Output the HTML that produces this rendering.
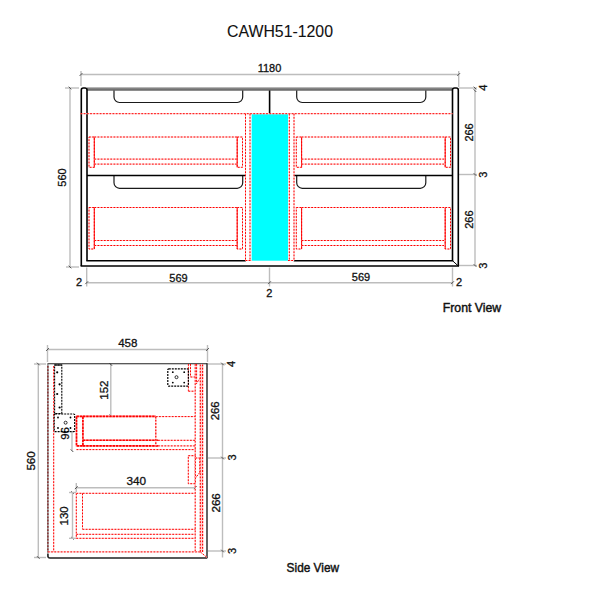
<!DOCTYPE html>
<html><head><meta charset="utf-8"><style>
html,body{margin:0;padding:0;background:#fff;}
svg{display:block;}
text{font-family:"Liberation Sans", sans-serif;fill:#111;stroke:#111;stroke-width:0.3px;}
</style></head><body>
<svg width="600" height="600" viewBox="0 0 600 600">
<defs><linearGradient id="gb" x1="0" y1="0" x2="0" y2="1"><stop offset="0" stop-color="#9a9a9a"/><stop offset="1" stop-color="#5a5a5a"/></linearGradient></defs>
<rect width="600" height="600" fill="#fff"/>
<text x="280.0" y="36.8" font-size="16.3" text-anchor="middle" font-weight="normal" textLength="106" lengthAdjust="spacingAndGlyphs" style="stroke-width:0.1px">CAWH51-1200</text>
<line x1="81" y1="74.5" x2="458.7" y2="74.5" stroke="#bdbdbd" stroke-width="1.4" />
<line x1="81" y1="71" x2="81" y2="86" stroke="#bdbdbd" stroke-width="1.4" />
<line x1="458.7" y1="71" x2="458.7" y2="87" stroke="#bdbdbd" stroke-width="1.4" />
<line x1="79.6" y1="75.9" x2="82.4" y2="73.1" stroke="#444" stroke-width="0.9" />
<line x1="457.3" y1="75.9" x2="460.09999999999997" y2="73.1" stroke="#444" stroke-width="0.9" />
<text x="269.5" y="72.1" font-size="11" text-anchor="middle" font-weight="normal">1180</text>
<line x1="70" y1="88" x2="70" y2="267" stroke="#bdbdbd" stroke-width="1.4" />
<line x1="65" y1="88" x2="79" y2="88" stroke="#bdbdbd" stroke-width="1.4" />
<line x1="66" y1="267" x2="79" y2="267" stroke="#bdbdbd" stroke-width="1.4" />
<line x1="68.7" y1="86.7" x2="71.3" y2="89.3" stroke="#444" stroke-width="0.9" />
<line x1="68.7" y1="265.7" x2="71.3" y2="268.3" stroke="#444" stroke-width="0.9" />
<text x="0" y="0" transform="translate(62.49,177.5) rotate(-90)" font-size="11" text-anchor="middle" dominant-baseline="central" font-weight="normal">560</text>
<line x1="475" y1="88" x2="475" y2="266" stroke="#bdbdbd" stroke-width="1.4" />
<line x1="459" y1="88" x2="477" y2="88" stroke="#bdbdbd" stroke-width="1.4" />
<line x1="473.7" y1="86.7" x2="476.3" y2="89.3" stroke="#444" stroke-width="0.9" />
<line x1="459" y1="174.5" x2="477" y2="174.5" stroke="#bdbdbd" stroke-width="1.4" />
<line x1="473.7" y1="173.2" x2="476.3" y2="175.8" stroke="#444" stroke-width="0.9" />
<line x1="459" y1="265.5" x2="477" y2="265.5" stroke="#bdbdbd" stroke-width="1.4" />
<line x1="473.7" y1="264.2" x2="476.3" y2="266.8" stroke="#444" stroke-width="0.9" />
<line x1="473.7" y1="89.4" x2="476.3" y2="92.0" stroke="#444" stroke-width="0.9" />
<text x="0" y="0" transform="translate(483.0,87.64) rotate(-90)" font-size="11" text-anchor="middle" dominant-baseline="central" font-weight="normal">4</text>
<text x="0" y="0" transform="translate(468.6,132.45) rotate(-90)" font-size="11" text-anchor="middle" dominant-baseline="central" font-weight="normal">266</text>
<text x="0" y="0" transform="translate(483.3,174.8) rotate(-90)" font-size="11" text-anchor="middle" dominant-baseline="central" font-weight="normal">3</text>
<text x="0" y="0" transform="translate(468.6,219.65) rotate(-90)" font-size="11" text-anchor="middle" dominant-baseline="central" font-weight="normal">266</text>
<text x="0" y="0" transform="translate(482.75,265.75) rotate(-90)" font-size="11" text-anchor="middle" dominant-baseline="central" font-weight="normal">3</text>
<line x1="86.7" y1="282.7" x2="452.5" y2="282.7" stroke="#bdbdbd" stroke-width="1.4" />
<line x1="86.7" y1="267.5" x2="86.7" y2="286.5" stroke="#bdbdbd" stroke-width="1.4" />
<line x1="85.3" y1="284.09999999999997" x2="88.10000000000001" y2="281.3" stroke="#444" stroke-width="0.9" />
<line x1="269.5" y1="267.5" x2="269.5" y2="286.5" stroke="#bdbdbd" stroke-width="1.4" />
<line x1="268.1" y1="284.09999999999997" x2="270.9" y2="281.3" stroke="#444" stroke-width="0.9" />
<line x1="452.5" y1="267.5" x2="452.5" y2="286.5" stroke="#bdbdbd" stroke-width="1.4" />
<line x1="451.1" y1="284.09999999999997" x2="453.9" y2="281.3" stroke="#444" stroke-width="0.9" />
<text x="79.0" y="285.5" font-size="11" text-anchor="middle" font-weight="normal">2</text>
<text x="178.45" y="281.75" font-size="11" text-anchor="middle" font-weight="normal">569</text>
<text x="269.3" y="296.7" font-size="11" text-anchor="middle" font-weight="normal">2</text>
<text x="361.0" y="281.2" font-size="11" text-anchor="middle" font-weight="normal">569</text>
<text x="458.95" y="285.9" font-size="11" text-anchor="middle" font-weight="normal">2</text>
<rect x="87" y="87.3" width="365.5" height="3.4" fill="url(#gb)"/>
<path d="M81.3,266 L81.3,90 Q81.3,88 83.3,88 L85,88 Q87,88 87,90 L87,260.7" stroke="#000" stroke-width="1.6" fill="none" />
<path d="M458.3,266 L458.3,90 Q458.3,88 456.3,88 L454.5,88 Q452.5,88 452.5,90 L452.5,260.7" stroke="#000" stroke-width="1.6" fill="none" />
<line x1="80.6" y1="266" x2="459" y2="266" stroke="#000" stroke-width="1.6" />
<line x1="86.3" y1="260.7" x2="245.8" y2="260.7" stroke="#000" stroke-width="1.6" />
<line x1="293.7" y1="260.7" x2="453.2" y2="260.7" stroke="#000" stroke-width="1.6" />
<line x1="452.5" y1="260.7" x2="458.3" y2="266" stroke="#000" stroke-width="1.0" />
<path d="M114,90.5 L114,97.0 A5.5,5.5 0 0 0 119.5,102.5 L237.2,102.5 A5.5,5.5 0 0 0 242.7,97.0 L242.7,90.5" stroke="#1a1a1a" stroke-width="1.2" fill="none" />
<path d="M296.7,90.5 L296.7,97.0 A5.5,5.5 0 0 0 302.2,102.5 L420.3,102.5 A5.5,5.5 0 0 0 425.8,97.0 L425.8,90.5" stroke="#1a1a1a" stroke-width="1.2" fill="none" />
<path d="M114,176 L114,182.8 A5.5,5.5 0 0 0 119.5,188.3 L237.2,188.3 A5.5,5.5 0 0 0 242.7,182.8 L242.7,176" stroke="#1a1a1a" stroke-width="1.2" fill="none" />
<path d="M296.7,176 L296.7,182.8 A5.5,5.5 0 0 0 302.2,188.3 L420.3,188.3 A5.5,5.5 0 0 0 425.8,182.8 L425.8,176" stroke="#1a1a1a" stroke-width="1.2" fill="none" />
<line x1="269.6" y1="90.5" x2="269.6" y2="113.6" stroke="#000" stroke-width="1.6" />
<line x1="87" y1="175.5" x2="245.5" y2="175.5" stroke="#000" stroke-width="1.6" />
<line x1="294" y1="175.5" x2="452.5" y2="175.5" stroke="#000" stroke-width="1.6" />
<rect x="251.7" y="114.2" width="36.3" height="146.5" fill="#00ffff"/>
<line x1="80.5" y1="113.7" x2="452.5" y2="113.7" stroke="#ffc8c8" stroke-width="1.0" />
<line x1="80.5" y1="113.7" x2="452.5" y2="113.7" stroke="#ff0000" stroke-width="1.0" stroke-dasharray="1.8 1.4"/>
<line x1="245.5" y1="113.7" x2="245.5" y2="260.5" stroke="#ffc8c8" stroke-width="1.0" />
<line x1="245.5" y1="113.7" x2="245.5" y2="260.5" stroke="#ff0000" stroke-width="1.0" stroke-dasharray="1.8 1.4"/>
<line x1="250" y1="113.7" x2="250" y2="260.5" stroke="#ffc8c8" stroke-width="1.0" />
<line x1="250" y1="113.7" x2="250" y2="260.5" stroke="#ff0000" stroke-width="1.0" stroke-dasharray="1.8 1.4"/>
<line x1="289.3" y1="113.7" x2="289.3" y2="260.5" stroke="#ffc8c8" stroke-width="1.0" />
<line x1="289.3" y1="113.7" x2="289.3" y2="260.5" stroke="#ff0000" stroke-width="1.0" stroke-dasharray="1.8 1.4"/>
<line x1="294" y1="113.7" x2="294" y2="260.5" stroke="#ffc8c8" stroke-width="1.0" />
<line x1="294" y1="113.7" x2="294" y2="260.5" stroke="#ff0000" stroke-width="1.0" stroke-dasharray="1.8 1.4"/>
<line x1="245.5" y1="260.5" x2="251.7" y2="260.5" stroke="#ffc8c8" stroke-width="1.0" />
<line x1="245.5" y1="260.5" x2="251.7" y2="260.5" stroke="#ff0000" stroke-width="1.0" stroke-dasharray="1.8 1.4"/>
<line x1="288" y1="260.5" x2="294" y2="260.5" stroke="#ffc8c8" stroke-width="1.0" />
<line x1="288" y1="260.5" x2="294" y2="260.5" stroke="#ff0000" stroke-width="1.0" stroke-dasharray="1.8 1.4"/>
<rect x="89" y="137" width="5.3" height="30.30000000000001" fill="none" stroke="#ffc8c8" stroke-width="1.0"/>
<rect x="89" y="137" width="5.3" height="30.30000000000001" fill="none" stroke="#ff0000" stroke-width="1.0" stroke-dasharray="1.8 1.4"/>
<rect x="237.2" y="137" width="5.3" height="30.30000000000001" fill="none" stroke="#ffc8c8" stroke-width="1.0"/>
<rect x="237.2" y="137" width="5.3" height="30.30000000000001" fill="none" stroke="#ff0000" stroke-width="1.0" stroke-dasharray="1.8 1.4"/>
<line x1="94.3" y1="137" x2="94.3" y2="167.3" stroke="#ff0000" stroke-width="0.9" />
<line x1="237.2" y1="137" x2="237.2" y2="167.3" stroke="#ff0000" stroke-width="0.9" />
<line x1="94.3" y1="137" x2="237.2" y2="137" stroke="#ffc8c8" stroke-width="1.0" />
<line x1="94.3" y1="137" x2="237.2" y2="137" stroke="#ff0000" stroke-width="1.0" stroke-dasharray="1.8 1.4"/>
<line x1="94.3" y1="159.1" x2="237.2" y2="159.1" stroke="#ffc8c8" stroke-width="1.0" />
<line x1="94.3" y1="159.1" x2="237.2" y2="159.1" stroke="#ff0000" stroke-width="1.0" stroke-dasharray="1.8 1.4"/>
<line x1="94.3" y1="164.1" x2="237.2" y2="164.1" stroke="#ffc8c8" stroke-width="1.0" />
<line x1="94.3" y1="164.1" x2="237.2" y2="164.1" stroke="#ff0000" stroke-width="1.0" stroke-dasharray="1.8 1.4"/>
<rect x="296.3" y="137" width="5.3" height="30.30000000000001" fill="none" stroke="#ffc8c8" stroke-width="1.0"/>
<rect x="296.3" y="137" width="5.3" height="30.30000000000001" fill="none" stroke="#ff0000" stroke-width="1.0" stroke-dasharray="1.8 1.4"/>
<rect x="445.2" y="137" width="5.3" height="30.30000000000001" fill="none" stroke="#ffc8c8" stroke-width="1.0"/>
<rect x="445.2" y="137" width="5.3" height="30.30000000000001" fill="none" stroke="#ff0000" stroke-width="1.0" stroke-dasharray="1.8 1.4"/>
<line x1="301.6" y1="137" x2="301.6" y2="167.3" stroke="#ff0000" stroke-width="0.9" />
<line x1="445.2" y1="137" x2="445.2" y2="167.3" stroke="#ff0000" stroke-width="0.9" />
<line x1="301.6" y1="137" x2="445.2" y2="137" stroke="#ffc8c8" stroke-width="1.0" />
<line x1="301.6" y1="137" x2="445.2" y2="137" stroke="#ff0000" stroke-width="1.0" stroke-dasharray="1.8 1.4"/>
<line x1="301.6" y1="159.1" x2="445.2" y2="159.1" stroke="#ffc8c8" stroke-width="1.0" />
<line x1="301.6" y1="159.1" x2="445.2" y2="159.1" stroke="#ff0000" stroke-width="1.0" stroke-dasharray="1.8 1.4"/>
<line x1="301.6" y1="164.1" x2="445.2" y2="164.1" stroke="#ffc8c8" stroke-width="1.0" />
<line x1="301.6" y1="164.1" x2="445.2" y2="164.1" stroke="#ff0000" stroke-width="1.0" stroke-dasharray="1.8 1.4"/>
<rect x="89" y="207.5" width="5.3" height="41.5" fill="none" stroke="#ffc8c8" stroke-width="1.0"/>
<rect x="89" y="207.5" width="5.3" height="41.5" fill="none" stroke="#ff0000" stroke-width="1.0" stroke-dasharray="1.8 1.4"/>
<rect x="237.2" y="207.5" width="5.3" height="41.5" fill="none" stroke="#ffc8c8" stroke-width="1.0"/>
<rect x="237.2" y="207.5" width="5.3" height="41.5" fill="none" stroke="#ff0000" stroke-width="1.0" stroke-dasharray="1.8 1.4"/>
<line x1="94.3" y1="207.5" x2="94.3" y2="249" stroke="#ff0000" stroke-width="0.9" />
<line x1="237.2" y1="207.5" x2="237.2" y2="249" stroke="#ff0000" stroke-width="0.9" />
<line x1="94.3" y1="207.5" x2="237.2" y2="207.5" stroke="#ffc8c8" stroke-width="1.0" />
<line x1="94.3" y1="207.5" x2="237.2" y2="207.5" stroke="#ff0000" stroke-width="1.0" stroke-dasharray="1.8 1.4"/>
<line x1="94.3" y1="240.5" x2="237.2" y2="240.5" stroke="#ffc8c8" stroke-width="1.0" />
<line x1="94.3" y1="240.5" x2="237.2" y2="240.5" stroke="#ff0000" stroke-width="1.0" stroke-dasharray="1.8 1.4"/>
<line x1="94.3" y1="245.5" x2="237.2" y2="245.5" stroke="#ffc8c8" stroke-width="1.0" />
<line x1="94.3" y1="245.5" x2="237.2" y2="245.5" stroke="#ff0000" stroke-width="1.0" stroke-dasharray="1.8 1.4"/>
<rect x="296.3" y="207.5" width="5.3" height="41.5" fill="none" stroke="#ffc8c8" stroke-width="1.0"/>
<rect x="296.3" y="207.5" width="5.3" height="41.5" fill="none" stroke="#ff0000" stroke-width="1.0" stroke-dasharray="1.8 1.4"/>
<rect x="445.2" y="207.5" width="5.3" height="41.5" fill="none" stroke="#ffc8c8" stroke-width="1.0"/>
<rect x="445.2" y="207.5" width="5.3" height="41.5" fill="none" stroke="#ff0000" stroke-width="1.0" stroke-dasharray="1.8 1.4"/>
<line x1="301.6" y1="207.5" x2="301.6" y2="249" stroke="#ff0000" stroke-width="0.9" />
<line x1="445.2" y1="207.5" x2="445.2" y2="249" stroke="#ff0000" stroke-width="0.9" />
<line x1="301.6" y1="207.5" x2="445.2" y2="207.5" stroke="#ffc8c8" stroke-width="1.0" />
<line x1="301.6" y1="207.5" x2="445.2" y2="207.5" stroke="#ff0000" stroke-width="1.0" stroke-dasharray="1.8 1.4"/>
<line x1="301.6" y1="240.5" x2="445.2" y2="240.5" stroke="#ffc8c8" stroke-width="1.0" />
<line x1="301.6" y1="240.5" x2="445.2" y2="240.5" stroke="#ff0000" stroke-width="1.0" stroke-dasharray="1.8 1.4"/>
<line x1="301.6" y1="245.5" x2="445.2" y2="245.5" stroke="#ffc8c8" stroke-width="1.0" />
<line x1="301.6" y1="245.5" x2="445.2" y2="245.5" stroke="#ff0000" stroke-width="1.0" stroke-dasharray="1.8 1.4"/>
<text x="472.0" y="311.5" font-size="13" text-anchor="middle" font-weight="normal" textLength="58.4" lengthAdjust="spacingAndGlyphs" style="stroke-width:0.45px">Front View</text>
<line x1="47.5" y1="349.5" x2="207.5" y2="349.5" stroke="#bdbdbd" stroke-width="1.4" />
<line x1="47.5" y1="345" x2="47.5" y2="362" stroke="#bdbdbd" stroke-width="1.4" />
<line x1="207.5" y1="345" x2="207.5" y2="362" stroke="#bdbdbd" stroke-width="1.4" />
<line x1="46.1" y1="350.9" x2="48.9" y2="348.1" stroke="#444" stroke-width="0.9" />
<line x1="206.1" y1="350.9" x2="208.9" y2="348.1" stroke="#444" stroke-width="0.9" />
<text x="127.8" y="347.05" font-size="11.6" text-anchor="middle" font-weight="normal">458</text>
<line x1="38.3" y1="364" x2="38.3" y2="557.5" stroke="#bdbdbd" stroke-width="1.4" />
<line x1="34" y1="364" x2="46" y2="364" stroke="#bdbdbd" stroke-width="1.4" />
<line x1="34" y1="557.5" x2="46" y2="557.5" stroke="#bdbdbd" stroke-width="1.4" />
<line x1="37.0" y1="362.7" x2="39.599999999999994" y2="365.3" stroke="#444" stroke-width="0.9" />
<line x1="37.0" y1="556.2" x2="39.599999999999994" y2="558.8" stroke="#444" stroke-width="0.9" />
<text x="0" y="0" transform="translate(30.5,460.95) rotate(-90)" font-size="11.6" text-anchor="middle" dominant-baseline="central" font-weight="normal">560</text>
<line x1="222.5" y1="364" x2="222.5" y2="557.5" stroke="#bdbdbd" stroke-width="1.4" />
<line x1="208" y1="364" x2="226" y2="364" stroke="#bdbdbd" stroke-width="1.4" />
<line x1="221.2" y1="362.7" x2="223.8" y2="365.3" stroke="#444" stroke-width="0.9" />
<line x1="208" y1="458" x2="226" y2="458" stroke="#bdbdbd" stroke-width="1.4" />
<line x1="221.2" y1="456.7" x2="223.8" y2="459.3" stroke="#444" stroke-width="0.9" />
<line x1="208" y1="551" x2="226" y2="551" stroke="#bdbdbd" stroke-width="1.4" />
<line x1="221.2" y1="549.7" x2="223.8" y2="552.3" stroke="#444" stroke-width="0.9" />
<text x="0" y="0" transform="translate(230.5,363.95) rotate(-90)" font-size="11" text-anchor="middle" dominant-baseline="central" font-weight="normal">4</text>
<text x="0" y="0" transform="translate(215.35,410.8) rotate(-90)" font-size="11.4" text-anchor="middle" dominant-baseline="central" font-weight="normal">266</text>
<text x="0" y="0" transform="translate(231.75,457.4) rotate(-90)" font-size="11" text-anchor="middle" dominant-baseline="central" font-weight="normal">3</text>
<text x="0" y="0" transform="translate(215.8,502.9) rotate(-90)" font-size="11.6" text-anchor="middle" dominant-baseline="central" font-weight="normal">266</text>
<text x="0" y="0" transform="translate(231.75,551.0) rotate(-90)" font-size="11" text-anchor="middle" dominant-baseline="central" font-weight="normal">3</text>
<line x1="110.8" y1="364" x2="110.8" y2="415.8" stroke="#bdbdbd" stroke-width="1.4" />
<line x1="109.5" y1="414.5" x2="112.1" y2="417.1" stroke="#444" stroke-width="0.9" />
<line x1="109.5" y1="363.2" x2="112.1" y2="365.8" stroke="#444" stroke-width="0.9" />
<text x="0" y="0" transform="translate(103.85,390.1) rotate(-90)" font-size="11.5" text-anchor="middle" dominant-baseline="central" font-weight="normal">152</text>
<line x1="72" y1="431" x2="72" y2="450.7" stroke="#bdbdbd" stroke-width="1.4" />
<line x1="70.7" y1="449.4" x2="73.3" y2="452.0" stroke="#444" stroke-width="0.9" />
<text x="0" y="0" transform="translate(65.4,433.45) rotate(-90)" font-size="11.5" text-anchor="middle" dominant-baseline="central" font-weight="normal">96</text>
<line x1="76.3" y1="487.7" x2="195.3" y2="487.7" stroke="#bdbdbd" stroke-width="1.4" />
<line x1="76.3" y1="483" x2="76.3" y2="492" stroke="#bdbdbd" stroke-width="1.4" />
<line x1="74.89999999999999" y1="489.09999999999997" x2="77.7" y2="486.3" stroke="#444" stroke-width="0.9" />
<line x1="193.9" y1="489.09999999999997" x2="196.70000000000002" y2="486.3" stroke="#444" stroke-width="0.9" />
<text x="136.25" y="485.25" font-size="11.8" text-anchor="middle" font-weight="normal">340</text>
<line x1="72.5" y1="492.5" x2="72.5" y2="538.3" stroke="#bdbdbd" stroke-width="1.4" />
<line x1="71.2" y1="491.2" x2="73.8" y2="493.8" stroke="#444" stroke-width="0.9" />
<line x1="71.2" y1="537.0" x2="73.8" y2="539.5999999999999" stroke="#444" stroke-width="0.9" />
<line x1="69" y1="492.5" x2="76" y2="492.5" stroke="#bdbdbd" stroke-width="1.4" />
<line x1="69" y1="538.3" x2="76" y2="538.3" stroke="#bdbdbd" stroke-width="1.4" />
<text x="0" y="0" transform="translate(64.35,515.9) rotate(-90)" font-size="11.5" text-anchor="middle" dominant-baseline="central" font-weight="normal">130</text>
<line x1="47.5" y1="363.7" x2="207.3" y2="363.7" stroke="#222" stroke-width="1.1" />
<line x1="47.9" y1="363.7" x2="47.9" y2="557" stroke="#777" stroke-width="1.3" />
<line x1="47.9" y1="366" x2="47.9" y2="552" stroke="#8a2020" stroke-width="1.3" stroke-dasharray="1.8 1.4"/>
<path d="M47.9,554 L47.9,556 Q47.9,558 49.9,558 L207.3,558" stroke="#222" stroke-width="1.4" fill="none" />
<line x1="207" y1="363.3" x2="207" y2="558" stroke="#222" stroke-width="1.4" />
<line x1="53.7" y1="366" x2="53.7" y2="552" stroke="#ffc8c8" stroke-width="1.0" />
<line x1="53.7" y1="366" x2="53.7" y2="552" stroke="#ff0000" stroke-width="1.0" stroke-dasharray="1.8 1.4"/>
<line x1="47.9" y1="551.9" x2="200.5" y2="551.9" stroke="#ffc8c8" stroke-width="1.0" />
<line x1="47.9" y1="551.9" x2="200.5" y2="551.9" stroke="#ff0000" stroke-width="1.0" stroke-dasharray="1.8 1.4"/>
<line x1="195.2" y1="364" x2="195.2" y2="552" stroke="#ffc8c8" stroke-width="1.0" />
<line x1="195.2" y1="364" x2="195.2" y2="552" stroke="#ff0000" stroke-width="1.0" stroke-dasharray="1.8 1.4"/>
<line x1="196.6" y1="364" x2="196.6" y2="384" stroke="#ffc8c8" stroke-width="1.0" />
<line x1="196.6" y1="364" x2="196.6" y2="384" stroke="#ff0000" stroke-width="1.0" stroke-dasharray="1.8 1.4"/>
<line x1="195.6" y1="384.5" x2="200.3" y2="378" stroke="#ffc8c8" stroke-width="1.0" />
<line x1="195.6" y1="384.5" x2="200.3" y2="378" stroke="#ff0000" stroke-width="1.0" stroke-dasharray="1.8 1.4"/>
<rect x="199.8" y="364.5" width="3.4" height="187.5" fill="#ffd0d0"/>
<line x1="200.3" y1="364.5" x2="200.3" y2="552" stroke="#ffc8c8" stroke-width="1.1" />
<line x1="200.3" y1="364.5" x2="200.3" y2="552" stroke="#ff0000" stroke-width="1.1" stroke-dasharray="1.8 1.4"/>
<line x1="202.6" y1="364.5" x2="202.6" y2="552" stroke="#ffc8c8" stroke-width="1.1" />
<line x1="202.6" y1="364.5" x2="202.6" y2="552" stroke="#ff0000" stroke-width="1.1" stroke-dasharray="1.8 1.4"/>
<line x1="200.3" y1="551.9" x2="207" y2="557.5" stroke="#ffc8c8" stroke-width="1.0" />
<line x1="200.3" y1="551.9" x2="207" y2="557.5" stroke="#ff0000" stroke-width="1.0" stroke-dasharray="1.8 1.4"/>
<line x1="188.4" y1="364" x2="188.4" y2="391.2" stroke="#ffc8c8" stroke-width="1.0" />
<line x1="188.4" y1="364" x2="188.4" y2="391.2" stroke="#ff0000" stroke-width="1.0" stroke-dasharray="1.8 1.4"/>
<line x1="190.5" y1="364" x2="190.5" y2="377" stroke="#ffc8c8" stroke-width="1.0" />
<line x1="190.5" y1="364" x2="190.5" y2="377" stroke="#ff0000" stroke-width="1.0" stroke-dasharray="1.8 1.4"/>
<line x1="190.5" y1="377" x2="195.2" y2="377" stroke="#ffc8c8" stroke-width="1.0" />
<line x1="190.5" y1="377" x2="195.2" y2="377" stroke="#ff0000" stroke-width="1.0" stroke-dasharray="1.8 1.4"/>
<line x1="188.4" y1="391.2" x2="195.2" y2="391.2" stroke="#ffc8c8" stroke-width="1.0" />
<line x1="188.4" y1="391.2" x2="195.2" y2="391.2" stroke="#ff0000" stroke-width="1.0" stroke-dasharray="1.8 1.4"/>
<rect x="188.3" y="455.7" width="7.1" height="28" fill="none" stroke="#ffc8c8" stroke-width="1.0"/>
<rect x="188.3" y="455.7" width="7.1" height="28" fill="none" stroke="#ff0000" stroke-width="1.0" stroke-dasharray="1.8 1.4"/>
<line x1="195.4" y1="458" x2="199.8" y2="458" stroke="#ffc8c8" stroke-width="1.0" />
<line x1="195.4" y1="458" x2="199.8" y2="458" stroke="#ff0000" stroke-width="1.0" stroke-dasharray="1.8 1.4"/>
<line x1="199.8" y1="458" x2="199.8" y2="472.5" stroke="#ffc8c8" stroke-width="1.0" />
<line x1="199.8" y1="458" x2="199.8" y2="472.5" stroke="#ff0000" stroke-width="1.0" stroke-dasharray="1.8 1.4"/>
<line x1="199.8" y1="472.5" x2="195.4" y2="478" stroke="#ffc8c8" stroke-width="1.0" />
<line x1="199.8" y1="472.5" x2="195.4" y2="478" stroke="#ff0000" stroke-width="1.0" stroke-dasharray="1.8 1.4"/>
<rect x="54.6" y="365" width="7.2" height="48.5" fill="none" stroke="#000" stroke-width="1.1" stroke-dasharray="2 1"/>
<line x1="54.6" y1="365" x2="61.8" y2="365" stroke="#000" stroke-width="1.1" />
<circle cx="57.2" cy="372.3" r="1.1" fill="#000"/>
<circle cx="59.6" cy="384.3" r="1.1" fill="#000"/>
<circle cx="57.2" cy="394" r="1.1" fill="#000"/>
<circle cx="59.6" cy="407.5" r="1.1" fill="#000"/>
<rect x="54.2" y="414" width="20.5" height="17.6" rx="1" fill="none" stroke="#000" stroke-width="1.2" stroke-dasharray="2 1"/>
<circle cx="58" cy="417.5" r="0.9" fill="#000"/>
<circle cx="70.5" cy="417.5" r="0.9" fill="#000"/>
<circle cx="58" cy="428" r="0.9" fill="#000"/>
<circle cx="70.5" cy="428" r="0.9" fill="#000"/>
<circle cx="65.6" cy="422.7" r="1.5" fill="none" stroke="#000" stroke-width="0.8"/>
<rect x="167.8" y="368.8" width="20.6" height="17.4" rx="1" fill="none" stroke="#000" stroke-width="1.2" stroke-dasharray="2 1"/>
<circle cx="172.8" cy="372.2" r="0.9" fill="#000"/>
<circle cx="184.2" cy="372.2" r="0.9" fill="#000"/>
<circle cx="172.8" cy="382.6" r="0.9" fill="#000"/>
<circle cx="184.2" cy="382.6" r="0.9" fill="#000"/>
<circle cx="176.5" cy="377.2" r="1.5" fill="none" stroke="#000" stroke-width="0.8"/>
<rect x="76.5" y="416.4" width="6.4" height="29.5" fill="none" stroke="#ff9a9a" stroke-width="1.6" />
<line x1="82.9" y1="416.4" x2="155.8" y2="416.4" stroke="#ff9a9a" stroke-width="1.6" />
<line x1="82.9" y1="440.3" x2="158" y2="440.3" stroke="#ff9a9a" stroke-width="1.6" />
<line x1="82.9" y1="445.9" x2="158" y2="445.9" stroke="#ff9a9a" stroke-width="1.6" />
<rect x="76.5" y="416.4" width="6.4" height="29.5" fill="none" stroke="#ff0000" stroke-width="1.6" stroke-dasharray="2.4 0.9"/>
<line x1="82.9" y1="416.4" x2="155.8" y2="416.4" stroke="#ff0000" stroke-width="1.6" stroke-dasharray="2.4 0.9"/>
<line x1="82.9" y1="440.3" x2="158" y2="440.3" stroke="#ff0000" stroke-width="1.6" stroke-dasharray="2.4 0.9"/>
<line x1="82.9" y1="445.9" x2="158" y2="445.9" stroke="#ff0000" stroke-width="1.6" stroke-dasharray="2.4 0.9"/>
<line x1="155.8" y1="416.6" x2="195.4" y2="416.6" stroke="#ffc8c8" stroke-width="1.0" />
<line x1="155.8" y1="416.6" x2="195.4" y2="416.6" stroke="#ff0000" stroke-width="1.0" stroke-dasharray="1.8 1.4"/>
<line x1="155.8" y1="416.6" x2="155.8" y2="446" stroke="#ffc8c8" stroke-width="1.2" />
<line x1="155.8" y1="416.6" x2="155.8" y2="446" stroke="#ff0000" stroke-width="1.2" stroke-dasharray="1.8 1.4"/>
<line x1="158" y1="440.3" x2="195.4" y2="440.3" stroke="#ffc8c8" stroke-width="1.0" />
<line x1="158" y1="440.3" x2="195.4" y2="440.3" stroke="#ff0000" stroke-width="1.0" stroke-dasharray="1.8 1.4"/>
<line x1="158" y1="445.9" x2="195.4" y2="445.9" stroke="#ffc8c8" stroke-width="1.0" />
<line x1="158" y1="445.9" x2="195.4" y2="445.9" stroke="#ff0000" stroke-width="1.0" stroke-dasharray="1.8 1.4"/>
<line x1="76.5" y1="449.6" x2="195.4" y2="449.6" stroke="#ffc8c8" stroke-width="1.0" />
<line x1="76.5" y1="449.6" x2="195.4" y2="449.6" stroke="#ff0000" stroke-width="1.0" stroke-dasharray="1.8 1.4"/>
<line x1="76.3" y1="493.3" x2="195.4" y2="493.3" stroke="#ffc8c8" stroke-width="1.0" />
<line x1="76.3" y1="493.3" x2="195.4" y2="493.3" stroke="#ff0000" stroke-width="1.0" stroke-dasharray="1.8 1.4"/>
<line x1="76.3" y1="493.3" x2="76.3" y2="538.3" stroke="#ffc8c8" stroke-width="1.0" />
<line x1="76.3" y1="493.3" x2="76.3" y2="538.3" stroke="#ff0000" stroke-width="1.0" stroke-dasharray="1.8 1.4"/>
<line x1="82.5" y1="493.3" x2="82.5" y2="529.3" stroke="#ffc8c8" stroke-width="1.0" />
<line x1="82.5" y1="493.3" x2="82.5" y2="529.3" stroke="#ff0000" stroke-width="1.0" stroke-dasharray="1.8 1.4"/>
<line x1="82.5" y1="529.3" x2="195.4" y2="529.3" stroke="#ffc8c8" stroke-width="1.0" />
<line x1="82.5" y1="529.3" x2="195.4" y2="529.3" stroke="#ff0000" stroke-width="1.0" stroke-dasharray="1.8 1.4"/>
<line x1="76.3" y1="534.3" x2="195.4" y2="534.3" stroke="#ffc8c8" stroke-width="1.0" />
<line x1="76.3" y1="534.3" x2="195.4" y2="534.3" stroke="#ff0000" stroke-width="1.0" stroke-dasharray="1.8 1.4"/>
<line x1="76.3" y1="538.3" x2="195.4" y2="538.3" stroke="#ffc8c8" stroke-width="1.0" />
<line x1="76.3" y1="538.3" x2="195.4" y2="538.3" stroke="#ff0000" stroke-width="1.0" stroke-dasharray="1.8 1.4"/>
<text x="312.85" y="572.45" font-size="13.3" text-anchor="middle" font-weight="normal" textLength="52.5" lengthAdjust="spacingAndGlyphs" style="stroke-width:0.45px">Side View</text>
</svg>
</body></html>
